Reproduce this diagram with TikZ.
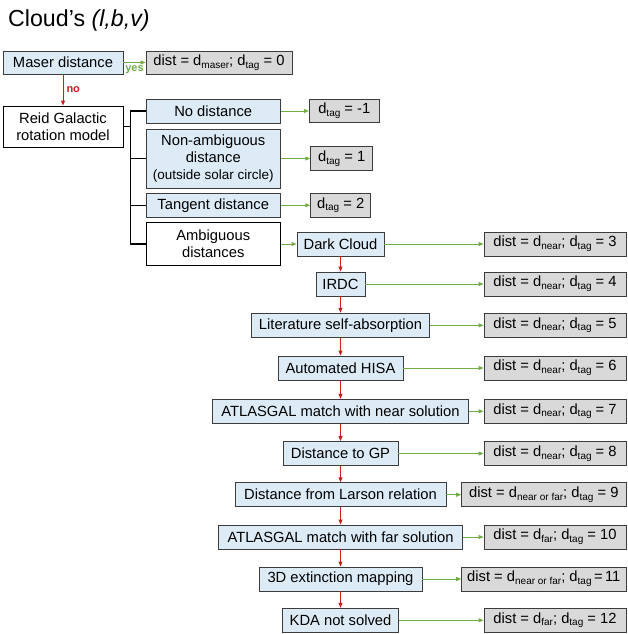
\documentclass[tikz,border=0pt]{standalone}
\usepackage{fontspec}
\setmainfont{Liberation Sans}
\usetikzlibrary{arrows.meta, positioning}

\definecolor{boxblue}{RGB}{221,235,247}
\definecolor{boxgray}{RGB}{217,217,217}
\definecolor{yesgreen}{RGB}{112,173,71}
\definecolor{nored}{RGB}{200,30,30}
\definecolor{edgegray}{RGB}{60,60,60}

\newcommand{\lowsub}[1]{\raisebox{-0.35ex}{\fontsize{10}{10}\selectfont #1}}

\tikzset{
  flowbox/.style={draw=edgegray, line width=0.9pt, inner xsep=3pt, inner ysep=1pt,
    minimum height=24pt, align=center, font=\fontsize{14.75}{17}\selectfont},
  testbox/.style={flowbox, fill=boxblue},
  plainbox/.style={flowbox, fill=white, draw=black},
  resultbox/.style={flowbox, fill=boxgray},
  yesarrow/.style={draw=yesgreen, line width=1pt, -{Triangle[length=5pt,width=4pt]}},
  noarrow/.style={draw=nored, line width=1pt, -{Triangle[length=5pt,width=4pt]}},
  bracket/.style={draw=black, line width=1.2pt},
  tinylabel/.style={inner sep=1pt, font=\bfseries\fontsize{11}{11}\selectfont}
}

\begin{document}
\begin{tikzpicture}[x=1pt, y=-1pt]

\useasboundingbox (0,0) rectangle (627,634);

\node[anchor=base west, inner sep=0pt, font=\fontsize{23.2}{26}\selectfont] (title) at (8,26.7) {Cloud’s \textit{(l,b,v)}};

% first test
\node[testbox, minimum width=120pt, minimum height=23pt] (maser) at (63,62.5) {Maser distance};
\node[resultbox, minimum width=146pt, minimum height=23pt] (dmaser) at (219,62.5) {dist = d\lowsub{maser}; d\lowsub{tag} = 0};
\node[plainbox, minimum width=120pt, minimum height=41pt] (reid) at (63,126.5) {Reid Galactic\\rotation model};

% rotation model outcomes
\node[testbox, minimum width=134.5pt] (nodist) at (213.25,111) {No distance};
\node[testbox, minimum width=134.5pt, minimum height=59pt] (nonamb) at (213.25,158.5) {Non-ambiguous\\distance\\{\fontsize{13.5}{15}\selectfont(outside solar circle)}};
\node[testbox, minimum width=134.5pt] (tangent) at (213.25,205.3) {Tangent distance};
\node[plainbox, minimum width=134.5pt, minimum height=43pt] (ambig) at (213.25,244) {Ambiguous\\distances};

\node[resultbox, minimum width=70pt, minimum height=23.4pt] (tagm1) at (344.3,111) {d\lowsub{tag} = -1};
\node[resultbox, minimum width=62pt] (tag1) at (341.7,158.5) {d\lowsub{tag} = 1};
\node[resultbox, minimum width=60pt] (tag2) at (340.7,205.3) {d\lowsub{tag} = 2};

% ambiguous distance column
\node[testbox, minimum width=87pt] (dark) at (340.5,244) {Dark Cloud};
\node[testbox, minimum width=49pt] (irdc) at (340.5,284) {IRDC};
\node[testbox, minimum width=178pt] (litsa) at (340.5,325.3) {Literature self-absorption};
\node[testbox, minimum width=125pt] (hisa) at (340.5,368) {Automated HISA};
\node[testbox, minimum width=256pt] (agnear) at (340.5,411.3) {ATLASGAL match with near solution};
\node[testbox, minimum width=115pt] (gp) at (340.5,453.5) {Distance to GP};
\node[testbox, minimum width=211pt] (larson) at (340.5,494.7) {Distance from Larson relation};
\node[testbox, minimum width=244pt] (agfar) at (340.5,537) {ATLASGAL match with far solution};
\node[testbox, minimum width=163pt] (ext) at (340.5,579) {3D extinction mapping};
\node[testbox, minimum width=116pt] (kda) at (340.5,620.3) {KDA not solved};

\foreach \row/\y in {3/244, 4/284, 5/325.3, 6/368, 7/411.3, 8/453.5}
    \node[resultbox, minimum width=142pt] (res\row) at (555,\y) {dist = d\lowsub{near}; d\lowsub{tag} = \row};
\node[resultbox, minimum width=164.3pt] (res9) at (543.8,494.7) {dist = d\lowsub{near or far}; d\lowsub{tag} = 9};
\node[resultbox, minimum width=142pt] (res10) at (555,537) {dist = d\lowsub{far}; d\lowsub{tag} = 10};
\node[resultbox, minimum width=164.3pt] (res11) at (543.8,579) {dist = d\lowsub{near or far}; d\lowsub{tag}\,=\,11};
\node[resultbox, minimum width=142pt] (res12) at (555,620.3) {dist = d\lowsub{far}; d\lowsub{tag} = 12};

% connectors
\draw[yesarrow] (maser) -- node[below=1.5pt, tinylabel, text=yesgreen] {yes} (dmaser);
\draw[noarrow] (maser) -- node[right, tinylabel, inner sep=3pt, text=nored] {no} (reid);

\coordinate (trunk) at (130.7,126.5);
\draw[bracket] (reid.east) -- (trunk);
\draw[bracket] (nodist.west) -- (nodist.west -| trunk) |- (ambig.west);
\draw[bracket] (nonamb.west) -- (nonamb.west -| trunk);
\draw[bracket] (tangent.west) -- (tangent.west -| trunk);

\foreach \a/\b in {nodist/tagm1, nonamb/tag1, tangent/tag2, ambig/dark, dark/res3, irdc/res4, litsa/res5, hisa/res6, agnear/res7, gp/res8, larson/res9, agfar/res10, ext/res11, kda/res12}
    \draw[yesarrow] (\a) -- (\b);

\foreach \a/\b in {dark/irdc, irdc/litsa, litsa/hisa, hisa/agnear, agnear/gp, gp/larson, larson/agfar, agfar/ext, ext/kda}
    \draw[noarrow] (\a) -- (\b);

\end{tikzpicture}
\end{document}
